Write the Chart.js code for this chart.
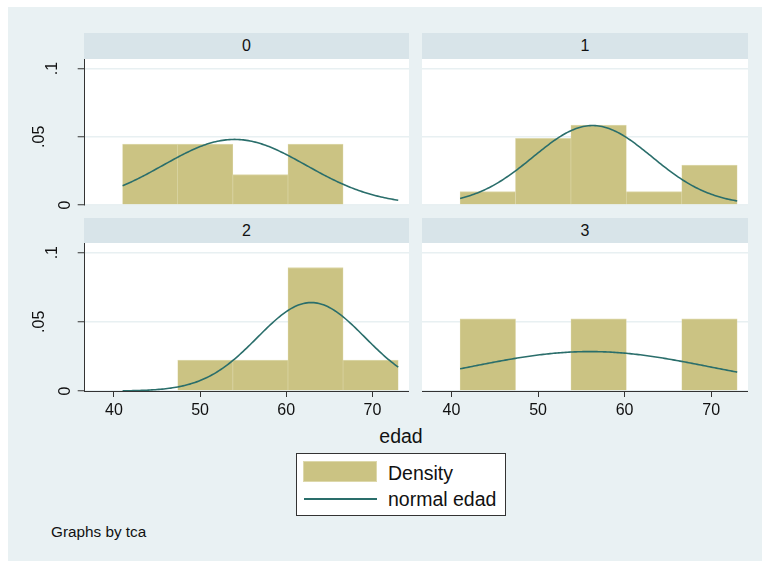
<!DOCTYPE html>
<html>
<head>
<meta charset="utf-8">
<title>Histogram of edad by tca</title>
<script src="https://cdn.jsdelivr.net/npm/chart.js@4/dist/chart.umd.min.js"></script>
<style>
  html, body { margin: 0; padding: 0; background: #ffffff; }
  #stage { position: relative; width: 762px; height: 561px; overflow: hidden;
           font-family: "Liberation Sans", Arial, sans-serif; color: #111; }
  #region { position: absolute; left: 8px; top: 7px; width: 754px; height: 554px; background: #e9f1f3; }
  .strip { position: absolute; background: #d8e4e9; text-align: center; font-size: 16px; }
  .txt { position: absolute; white-space: nowrap; }
  #legend { position: absolute; left: 296px; top: 453px; width: 208px; height: 61px;
            background: #fff; border: 1px solid #333; }
  canvas { position: absolute; }
</style>
</head>
<body>
<div id="stage">
  <div id="region"></div>
</div>
<script>
// ---- data -------------------------------------------------------------
const groups = ['0', '1', '2', '3'];                 // tca
const binMids = [44.2, 50.6, 57.0, 63.4, 69.8];      // edad bins, width 6.4 (41 .. 73)
const density0 = [0.0446, 0.0446, 0.0223, 0.0446, null];
const density1 = [0.0098, 0.0488, 0.0586, 0.0098, 0.0293];
const density2 = [null, 0.0223, 0.0223, 0.0893, 0.0223];
const density3 = [0.0521, null, 0.0521, null, 0.0521];
const normalMean = [54.0, 56.3, 62.9, 56.0];         // fitted normal per group
const normalSd = [8.3, 6.85, 6.24, 14.0];
const edadMin = 41, edadMax = 73;
const xTicks = [40, 50, 60, 70];
const yTicks = [0, 0.05, 0.1];
const yTickLabels = ['0', '.05', '.1'];
const densities = [density0, density1, density2, density3];

// ---- styling ----------------------------------------------------------
const KHAKI = '#cbc383';
const KHAKI_EDGE = '#ddd8ab';
const LINE = '#2a6e6b';
const AXIS = '#333333';
const GRID = '#e8f0f2';
const TEXT = '#111111';
const FONT = '"Liberation Sans", Arial, sans-serif';

const stage = document.getElementById('stage');

function addBox(cls, left, top, width, height, text, css) {
  const d = document.createElement('div');
  d.className = cls;
  d.style.cssText = `left:${left}px;top:${top}px;width:${width}px;height:${height}px;line-height:${height}px;` + (css || '');
  if (text !== undefined) d.textContent = text;
  stage.appendChild(d);
  return d;
}

function addCanvas(left, top, width, height) {
  const c = document.createElement('canvas');
  c.width = width; c.height = height;
  c.style.cssText = `left:${left}px;top:${top}px;width:${width}px;height:${height}px;`;
  stage.appendChild(c);
  return c;
}

// white plotting area behind the marks
const plotBg = {
  id: 'plotBg',
  beforeDraw(chart) {
    const { ctx, chartArea: a } = chart;
    ctx.save();
    ctx.fillStyle = '#ffffff';
    ctx.fillRect(a.left, a.top, a.right - a.left, a.bottom - a.top);
    ctx.restore();
  }
};

// vertical y-axis labels, reading upward
const yLabels = {
  id: 'yLabels',
  afterDraw(chart, args, opts) {
    if (!opts.show) return;
    const { ctx, chartArea: a } = chart;
    const ys = chart.scales.y;
    ctx.save();
    ctx.font = `16px ${FONT}`;
    ctx.fillStyle = TEXT;
    ctx.textAlign = 'center';
    ctx.textBaseline = 'alphabetic';
    yTicks.forEach((v, i) => {
      const lab = yTickLabels[i];
      const py = ys.getPixelForValue(v);
      const bx = a.left - 1.7 - 13 * lab.length;
      ctx.save();
      ctx.translate(bx, py);
      ctx.rotate(-Math.PI / 2);
      ctx.fillText(lab, 0, 0);
      ctx.restore();
    });
    ctx.restore();
  }
};

function normalCurve(mean, sd) {
  const pts = [];
  for (let k = 0; k <= 160; k++) {
    const x = edadMin + (edadMax - edadMin) * k / 160;
    const z = (x - mean) / sd;
    pts.push({ x, y: Math.exp(-0.5 * z * z) / (sd * Math.sqrt(2 * Math.PI)) });
  }
  return pts;
}

function makePanel(i, geo) {
  const canvas = addCanvas(geo.left, geo.top, geo.width, geo.height);
  const showY = geo.showY, showX = geo.showX;
  new Chart(canvas, {
    type: 'bar',
    data: {
      datasets: [
        {
          type: 'line',
          label: 'normal edad',
          data: normalCurve(normalMean[i], normalSd[i]),
          borderColor: LINE,
          borderWidth: 1.6,
          pointRadius: 0,
          tension: 0,
          fill: false,
          order: 0
        },
        {
          type: 'bar',
          label: 'Density',
          data: binMids.map((x, j) => ({ x, y: densities[i][j] })),
          backgroundColor: KHAKI,
          borderColor: KHAKI_EDGE,
          borderWidth: { top: 1, left: 0.6, right: 0.6, bottom: 0 },
          borderSkipped: false,
          barPercentage: 1,
          categoryPercentage: 1,
          order: 1
        }
      ]
    },
    options: {
      responsive: false,
      animation: false,
      layout: { padding: 0 },
      plugins: {
        legend: { display: false },
        tooltip: { enabled: false },
        yLabels: { show: showY }
      },
      scales: {
        x: {
          type: 'linear',
          min: 36.6,
          max: 74.25,
          offset: false,
          display: showX,
          grid: { offset: false, drawOnChartArea: false, drawTicks: true, tickLength: 6, tickColor: AXIS, tickWidth: 1 },
          border: { display: true, color: AXIS, width: 1 },
          ticks: { font: { family: FONT, size: 16 }, color: TEXT, padding: 4, maxRotation: 0, callback: v => String(v) },
          afterBuildTicks: s => { s.ticks = xTicks.map(v => ({ value: v })); },
          // room below the plot: tick labels in the bottom row, a margin for the "0" label on top
          afterFit: s => { s.height = showX ? 30 : 12; }
        },
        y: {
          min: 0,
          max: 0.107,
          display: true,
          grid: { color: GRID, lineWidth: 1.5, drawTicks: showY, tickLength: 7, tickColor: AXIS, tickWidth: 1 },
          border: { display: showY, color: AXIS, width: 1 },
          ticks: { display: false },
          afterBuildTicks: s => { s.ticks = yTicks.map(v => ({ value: v })); },
          afterFit: s => { s.width = showY ? 76.7 : 0; }
        }
      }
    },
    plugins: [plotBg, yLabels]
  });
}

// panel strips with the group value
addBox('strip', 84, 33, 325, 26, groups[0]);
addBox('strip', 422, 33, 326, 26, groups[1]);
addBox('strip', 84, 218, 325, 25, groups[2]);
addBox('strip', 422, 218, 326, 25, groups[3]);

makePanel(0, { left: 8, top: 59, width: 401, height: 158, showY: true, showX: false });
makePanel(1, { left: 422, top: 59, width: 326, height: 158, showY: false, showX: false });
makePanel(2, { left: 8, top: 243, width: 401, height: 178, showY: true, showX: true });
makePanel(3, { left: 422, top: 243, width: 326, height: 178, showY: false, showX: true });

// shared x title
addBox('txt', 341, 424, 120, 25, 'edad', 'text-align:center;font-size:19.5px;');

// legend
const legend = document.createElement('div');
legend.id = 'legend';
stage.appendChild(legend);
const sw = document.createElement('div');
sw.style.cssText = `position:absolute;left:6px;top:7px;width:72px;height:19px;background:${KHAKI};border:1px solid ${KHAKI_EDGE};`;
legend.appendChild(sw);
const ln = document.createElement('div');
ln.style.cssText = `position:absolute;left:7px;top:44px;width:73px;height:2px;background:${LINE};`;
legend.appendChild(ln);
const t1 = document.createElement('div');
t1.className = 'txt';
t1.style.cssText = 'left:91px;top:6px;height:26px;line-height:26px;font-size:19.5px;';
t1.textContent = 'Density';
legend.appendChild(t1);
const t2 = document.createElement('div');
t2.className = 'txt';
t2.style.cssText = 'left:91px;top:32px;height:26px;line-height:26px;font-size:19.5px;';
t2.textContent = 'normal edad';
legend.appendChild(t2);

// note
addBox('txt', 51, 521, 200, 22, 'Graphs by tca', 'font-size:15.3px;');
</script>
</body>
</html>
